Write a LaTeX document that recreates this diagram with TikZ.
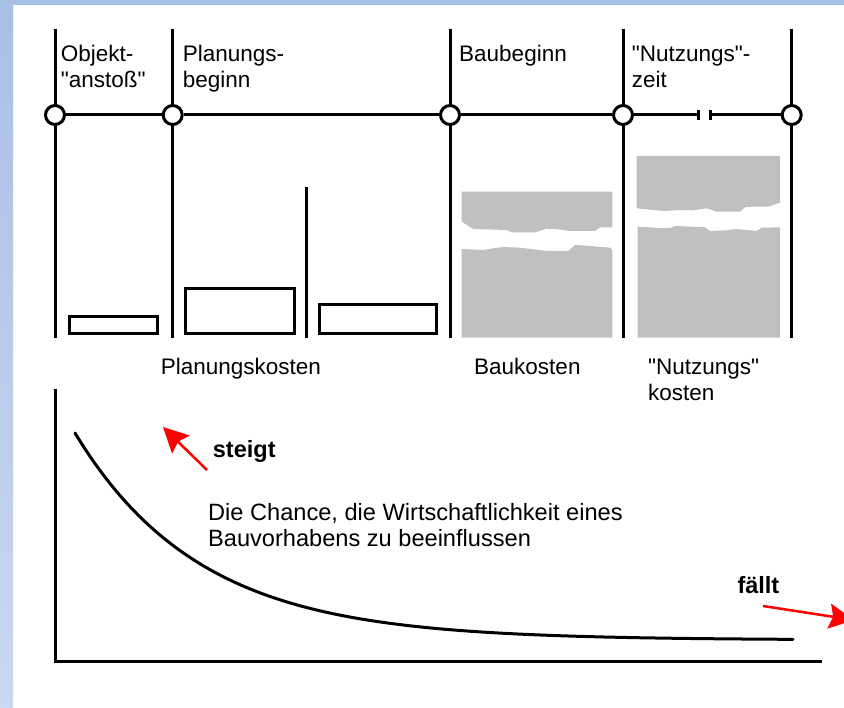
\documentclass[tikz,border=0pt]{standalone}
\usepackage{fontspec}
\setmainfont{Liberation Sans}
\newfontfamily\arialplain{Liberation Sans}
\usetikzlibrary{arrows.meta}
\definecolor{bandtop}{HTML}{A8BFE6}
\definecolor{bandbot}{HTML}{CAD8F0}
\definecolor{costgray}{HTML}{C0C0C0}
\tikzset{
  ln/.style={line width=3pt, line cap=butt},
  ms/.style={circle, draw, fill=white, line width=3pt, minimum size=19pt, inner sep=0pt},
  lbl/.style={anchor=base west, inner sep=0pt, font=\arialplain\fontsize{22.5}{26}\selectfont},
  slbl/.style={anchor=base west, inner sep=0pt, font=\arialplain\fontsize{23.6}{27}\selectfont},
  blbl/.style={anchor=base west, inner sep=0pt, font=\arialplain\fontsize{23.5}{27}\selectfont\bfseries},
  costbox/.style={draw, line width=3pt},
  costfill/.style={fill=costgray, draw=none},
  redarrow/.style={red, line width=2.5pt, -{Stealth[length=25pt,width=25pt,inset=4pt]}},
}
\begin{document}
\begin{tikzpicture}[x=1pt,y=-1pt]
\useasboundingbox (0,0) rectangle (844,708);
\clip (0,0) rectangle (844,708);
% background
\fill[white] (0,0) rectangle (844,708);
\shade[top color=bandtop, bottom color=bandbot] (0,0) rectangle (13,708);
\fill[bandtop] (0,0) rectangle (844,5);

% vertical time lines
\draw[ln] (55,29) -- (55,338);
\draw[ln] (172.7,29) -- (172.7,338);
\draw[ln] (450,29) -- (450,338);
\draw[ln] (623,29) -- (623,338);
\draw[ln] (791.7,29) -- (791.7,338);
\draw[ln] (306.7,187) -- (306.7,338);

% milestones
\node[ms] (m1) at (55,115) {};
\node[ms] (m2) at (172.7,115) {};
\node[ms] (m3) at (450,115) {};
\node[ms] (m4) at (623,115) {};
\node[ms] (m5) at (791.7,115) {};
\coordinate (brkL) at (698,115);
\coordinate (brkR) at (710,115);
\draw[ln] (m1) -- (m2);
\draw[ln] (m2) -- (m3);
\draw[ln] (m3) -- (m4);
\draw[ln] (m4) -- (brkL);
\draw[ln] (brkR) -- (m5);
\draw[ln] ([yshift=-5pt]brkL) -- ([yshift=5pt]brkL);
\draw[ln] ([yshift=-5pt]brkR) -- ([yshift=5pt]brkR);

% phase labels
\node[lbl] (l1a) at (60.7,62) {Objekt-};
\node[lbl] (l1b) at (60.7,87.5) {"anstoß"};
\node[lbl] (l2a) at (182.7,62) {Planungs-};
\node[lbl] (l2b) at (182.7,87.5) {beginn};
\node[lbl] (l3a) at (459,62) {Baubeginn};
\node[lbl] (l4a) at (631.7,62) {"Nutzungs"-};
\node[lbl] (l4b) at (631.7,87.5) {zeit};

% planning cost boxes
\draw[costbox] (69,316.5) rectangle (157.5,334);
\draw[costbox] (185,289) rectangle (294,334);
\draw[costbox] (319,305) rectangle (436.7,334);

% construction cost (broken bar)
\fill[costfill] (461.7,191.7) -- (612.3,191.7) -- (612.3,227.3) -- (600,227.3) -- (595,231) -- (570,231)
  -- (555,229) -- (546.7,228.7) -- (535,232.3) -- (511.7,232.3) -- (506.7,230) -- (473.3,229) -- (461.7,221.7) -- cycle;
\fill[costfill] (461.7,249) -- (483.3,250) -- (493.3,248.3) -- (503.3,247) -- (520,247.7) -- (546.7,251)
  -- (568.3,251) -- (575,245) -- (586.7,245.7) -- (610,247.7) -- (612.3,250) -- (612.3,337.7) -- (461.7,337.7) -- cycle;

% usage cost (broken bar)
\fill[costfill] (636.7,156) -- (780,156) -- (780,202.7) -- (768.3,206.7) -- (751.7,206.7) -- (745,207.3)
  -- (740,211.7) -- (716.7,211.7) -- (706.7,208.3) -- (693.3,210.3) -- (680,210) -- (663.3,211) -- (636.7,208.3) -- cycle;
\fill[costfill] (637.7,226.7) -- (648.3,227.3) -- (661.7,228.3) -- (671.7,227.7) -- (675,226) -- (705,227.3)
  -- (710,231) -- (726.7,230.3) -- (736.7,229) -- (756.7,231) -- (761.7,227.7) -- (780,227.3)
  -- (780,337.7) -- (637.7,337.7) -- cycle;

% cost labels
\node[lbl] (k1) at (160.7,375) {Planungskosten};
\node[lbl] (k2) at (474,375) {Baukosten};
\node[lbl] (k3a) at (648,375) {"Nutzungs"};
\node[lbl] (k3b) at (648,401) {kosten};

% chart axes
\coordinate (origin) at (55.3,661.7);
\coordinate (ytop) at (55.3,389);
\coordinate (xend) at (822,661.7);
\draw[ln] (ytop) -- (origin) -- (xend);

% influence curve
\draw[ln, line cap=round] plot[domain=75:793, samples=160, smooth] (\x, {640-207*exp(-0.008*(\x-75))});

% text
\node[slbl] (c1) at (208,520.7) {Die Chance, die Wirtschaftlichkeit eines};
\node[slbl] (c2) at (208,546.7) {Bauvorhabens zu beeinflussen};
\node[blbl] (up) at (212.7,458) {steigt};
\node[blbl] (down) at (737.3,593) {fällt};

% red arrows
\coordinate (upT) at (207,470);
\coordinate (upH) at (163,427);
\coordinate (dnT) at (763,606);
\coordinate (dnH) at (854,620);
\draw[redarrow] (upT) -- (upH);
\draw[redarrow] (dnT) -- (dnH);
\end{tikzpicture}
\end{document}
